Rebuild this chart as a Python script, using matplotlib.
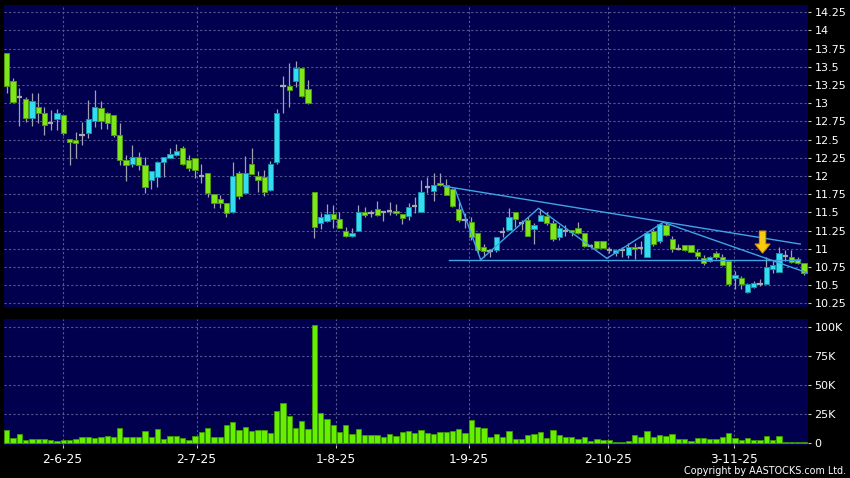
import numpy as np
import matplotlib.pyplot as plt

# daily OHLC (trading-day index 0..127)
opens = [13.685, 13.306, 13.083, 13.056, 12.79, 12.954, 12.861, 12.722, 12.778, 12.833,
         12.514, 12.5, 12.565, 12.597, 12.75, 12.94, 12.861, 12.833, 12.565, 12.222,
         12.167, 12.264, 12.148, 11.944, 11.98, 12.194, 12.25, 12.292, 12.389, 12.222,
         12.25, 12.0, 12.042, 11.75, 11.681, 11.625, 11.5, 12.037, 11.764, 12.167,
         12.0, 11.981, 11.806, 12.19, 13.24, 13.231, 13.30, 13.486, 13.194, 11.784,
         11.349, 11.385, 11.472, 11.413, 11.239, 11.17, 11.248, 11.5, 11.486, 11.541,
         11.5, 11.523, 11.523, 11.472, 11.45, 11.587, 11.509, 11.844, 11.789, 11.9,
         11.872, 11.817, 11.541, 11.394, 11.372, 11.211, 11.018, 10.963, 10.982, 11.229,
         11.257, 11.5, 11.358, 11.394, 11.266, 11.385, 11.454, 11.358, 11.156, 11.248,
         11.257, 11.28, 11.211, 11.037, 11.106, 11.106, 10.982, 10.936, 10.982, 10.91,
         11.03, 11.016, 10.892, 11.245, 11.108, 11.323, 11.131, 11.002, 11.048, 11.048,
         10.961, 10.878, 10.83, 10.947, 10.888, 10.833, 10.594, 10.603, 10.41, 10.475,
         10.52, 10.52, 10.727, 10.681, 10.901, 10.888, 10.856, 10.81]
highs = [13.69, 13.347, 13.208, 13.083, 13.14, 13.14, 12.954, 12.907, 12.917, 12.833,
         12.514, 12.606, 12.745, 13.046, 13.185, 13.037, 12.884, 12.833, 12.731, 12.282,
         12.42, 12.33, 12.26, 12.065, 12.21, 12.265, 12.39, 12.444, 12.41, 12.29,
         12.25, 12.167, 12.042, 11.75, 11.74, 11.625, 12.194, 12.065, 12.268, 12.389,
         12.065, 12.083, 12.21, 12.917, 13.38, 13.546, 13.574, 13.486, 13.32, 11.784,
         11.486, 11.615, 11.60, 11.51, 11.30, 11.28, 11.60, 11.573, 11.53, 11.65,
         11.52, 11.642, 11.615, 11.472, 11.624, 11.716, 11.945, 11.982, 12.037, 12.037,
         11.954, 11.83, 11.647, 11.495, 11.44, 11.211, 11.07, 11.0, 11.165, 11.294,
         11.555, 11.5, 11.40, 11.44, 11.35, 11.546, 11.51, 11.39, 11.32, 11.32,
         11.257, 11.372, 11.211, 11.065, 11.106, 11.106, 11.03, 10.99, 11.02, 11.085,
         11.085, 11.11, 11.245, 11.277, 11.36, 11.36, 11.17, 11.062, 11.048, 11.048,
         10.99, 10.92, 10.90, 10.97, 10.925, 10.833, 10.694, 10.626, 10.525, 10.557,
         10.58, 10.88, 10.83, 11.03, 10.979, 10.979, 10.88, 10.81]
lows = [13.14, 13.0, 12.69, 12.745, 12.68, 12.73, 12.56, 12.63, 12.63, 12.56,
        12.148, 12.25, 12.425, 12.527, 12.676, 12.64, 12.65, 12.54, 12.157, 11.935,
        12.13, 12.08, 11.76, 11.82, 11.843, 11.99, 12.25, 12.28, 12.157, 12.07,
        11.97, 11.90, 11.713, 11.556, 11.565, 11.44, 11.486, 11.685, 11.76, 12.028,
        11.773, 11.727, 11.79, 12.167, 12.87, 12.954, 13.222, 13.088, 12.99, 11.151,
        11.266, 11.37, 11.28, 11.28, 11.156, 11.16, 11.248, 11.43, 11.43, 11.45,
        11.385, 11.459, 11.47, 11.34, 11.395, 11.486, 11.509, 11.761, 11.66, 11.86,
        11.743, 11.58, 11.37, 11.28, 11.12, 10.936, 10.88, 10.88, 10.96, 11.165,
        11.257, 11.30, 11.26, 11.179, 11.064, 11.38, 11.33, 11.10, 11.12, 11.17,
        11.17, 11.20, 11.02, 11.005, 11.005, 11.005, 10.936, 10.90, 10.88, 10.87,
        10.855, 10.93, 10.883, 11.039, 11.085, 11.17, 10.956, 10.984, 10.97, 10.95,
        10.86, 10.78, 10.82, 10.86, 10.765, 10.49, 10.443, 10.443, 10.388, 10.466,
        10.49, 10.52, 10.672, 10.681, 10.83, 10.80, 10.79, 10.636]
closes = [13.23, 13.014, 13.083, 12.79, 13.037, 12.861, 12.694, 12.722, 12.861, 12.597,
          12.472, 12.458, 12.565, 12.778, 12.954, 12.75, 12.731, 12.565, 12.222, 12.157,
          12.264, 12.157, 11.85, 12.065, 12.194, 12.259, 12.306, 12.347, 12.167, 12.111,
          12.083, 12.0, 11.759, 11.625, 11.625, 11.486, 12.0, 11.722, 12.037, 12.028,
          11.944, 11.782, 12.167, 12.861, 13.24, 13.185, 13.486, 13.102, 13.0, 11.294,
          11.431, 11.472, 11.413, 11.28, 11.17, 11.211, 11.5, 11.459, 11.486, 11.459,
          11.5, 11.523, 11.486, 11.417, 11.569, 11.587, 11.784, 11.844, 11.872, 11.872,
          11.743, 11.592, 11.394, 11.394, 11.165, 10.982, 10.963, 10.963, 11.165, 11.229,
          11.44, 11.404, 11.358, 11.179, 11.321, 11.459, 11.349, 11.128, 11.28, 11.248,
          11.229, 11.211, 11.037, 11.037, 11.005, 11.005, 10.982, 10.982, 10.982, 11.03,
          10.993, 11.016, 11.222, 11.062, 11.337, 11.195, 11.002, 11.002, 10.984, 10.956,
          10.901, 10.8, 10.887, 10.888, 10.773, 10.521, 10.64, 10.511, 10.511, 10.534,
          10.52, 10.75, 10.773, 10.947, 10.901, 10.819, 10.81, 10.672]
# volume in thousands
volume = [10.6, 3.7, 7.2, 2.3, 3.4, 3.2, 2.9, 2.3, 1.7, 2.0,
          2.6, 3.2, 5.2, 5.2, 4.3, 5.2, 5.7, 5.2, 12.9, 4.6,
          4.6, 4.9, 10.3, 4.9, 12.1, 2.9, 5.5, 5.5, 3.7, 2.3,
          6.0, 9.2, 12.4, 5.2, 5.2, 15.2, 17.5, 10.9, 13.2, 9.8,
          10.9, 11.2, 8.6, 27.3, 34.2, 22.7, 12.6, 18.4, 11.8, 102.0,
          25.3, 20.4, 14.9, 8.9, 15.5, 7.5, 11.5, 6.6, 6.9, 6.9,
          4.9, 7.2, 5.5, 9.5, 10.1, 8.0, 10.9, 8.6, 7.2, 9.5,
          9.2, 9.8, 12.1, 8.0, 19.3, 13.5, 12.9, 5.2, 7.2, 4.6,
          10.1, 2.9, 2.9, 6.3, 7.8, 8.9, 3.7, 10.9, 6.6, 4.6,
          4.9, 2.9, 4.6, 1.4, 3.2, 2.6, 2.0, 0.3, 0.3, 1.1,
          6.9, 4.6, 10.3, 4.6, 6.9, 5.7, 7.2, 2.9, 2.9, 1.1,
          4.0, 4.0, 3.2, 2.9, 5.2, 8.3, 3.7, 2.6, 4.3, 2.3,
          2.0, 5.7, 2.3, 5.5, 0.9, 0.9, 0.9, 0.9]

date_labels = ['2-6-25', '2-7-25', '1-8-25', '1-9-25', '2-10-25', '3-11-25']
date_pos = [8.9, 30.25, 52.4, 73.6, 95.8, 115.85]

# hand-drawn trend lines (index, price)
resist_x = [69.6, 126.4]
resist_y = [11.86, 11.064]
support_x = [70.5, 126.4]
support_y = [10.85, 10.85]
zigzag_x = [71.4, 75.5, 84.7, 95.6, 104.6, 127.4]
zigzag_y = [11.822, 10.847, 11.556, 10.867, 11.363, 10.673]
arrow_x, arrow_top, arrow_tip = 120.4, 11.243, 10.94

NAVY = '#00004f'
GREEN = '#7ee61a'
CYAN = '#33dcf0'
GRID = '#56568f'

o = np.array(opens); h = np.array(highs); l = np.array(lows); c = np.array(closes)
idx = np.arange(len(o))
up = c > o
down = c < o
flat = c == o

fig = plt.figure(figsize=(8.5, 4.78), dpi=100, facecolor='black')
ax1 = fig.add_axes([4/850, 1-306.7/478, 803.5/850, 302/478], facecolor=NAVY)
ax2 = fig.add_axes([4/850, 1-445/478, 803.5/850, 125.7/478], facecolor=NAVY)

# candles
ax1.vlines(idx, l, h, color='#a0a0b0', lw=0.9, zorder=2)
ax1.bar(idx[down], (o-c)[down], bottom=c[down], width=0.84, color=GREEN,
        edgecolor='#4f9a10', lw=0.7, zorder=3)
ax1.bar(idx[up], (c-o)[up], bottom=o[up], width=0.84, color=CYAN,
        edgecolor='#1890a8', lw=0.7, zorder=3)
ax1.hlines(o[flat], idx[flat]-0.42, idx[flat]+0.42, color='#a8a8a8', lw=1.6, zorder=3)

# trend lines
for xs, ys in [(resist_x, resist_y), (support_x, support_y), (zigzag_x, zigzag_y)]:
    ax1.plot(xs, ys, color='#3fa4e4', lw=1.0, zorder=4)

# arrow
sw, hw, hl = 0.5, 1.2, 0.125
ax1.fill([arrow_x-sw, arrow_x+sw, arrow_x+sw, arrow_x+hw, arrow_x, arrow_x-hw, arrow_x-sw],
         [arrow_top, arrow_top, arrow_tip+hl, arrow_tip+hl, arrow_tip, arrow_tip+hl, arrow_tip+hl],
         color='#f7cc10', ec='#d99400', lw=0.8, zorder=5)

# volume
ax2.bar(idx, volume, width=0.85, color='#66f000', edgecolor='#3c9a00', lw=0.6, zorder=3)

xl = (-0.446, 127.56)
for ax in (ax1, ax2):
    ax.set_xlim(*xl)
    for s in ax.spines.values():
        s.set_visible(False)
    ax.yaxis.tick_right()
    ax.tick_params(axis='y', colors='#c8c8c8', labelcolor='white', length=2.5, width=0.8,
                   pad=2.5, labelsize=8)
    ax.grid(True, color=GRID, ls=(0, (2, 2)), lw=0.8, zorder=0)
    ax.set_xticks(date_pos)

ax1.set_ylim(10.203, 14.354)
pt = np.arange(10.25, 14.26, 0.25)
ax1.set_yticks(pt)
ax1.set_yticklabels(['{:g}'.format(v) for v in pt])
ax1.tick_params(axis='x', length=0, labelbottom=False)

ax2.set_ylim(-2.0, 106.9)
vt = [0, 25, 50, 75, 100]
ax2.set_yticks(vt)
ax2.set_yticklabels(['0' if v == 0 else '%dK' % v for v in vt])
ax2.set_xticklabels(date_labels)
ax2.tick_params(axis='x', colors='#c8c8c8', labelcolor='white', length=2.5, width=0.8,
                pad=3.5, labelsize=8.8)

fig.text(0.995, 1-471/478, 'Copyright by AASTOCKS.com Ltd.', color='white',
         fontsize=6.9, ha='right', va='center')

fig.savefig('out.png', dpi=100, facecolor='black')
